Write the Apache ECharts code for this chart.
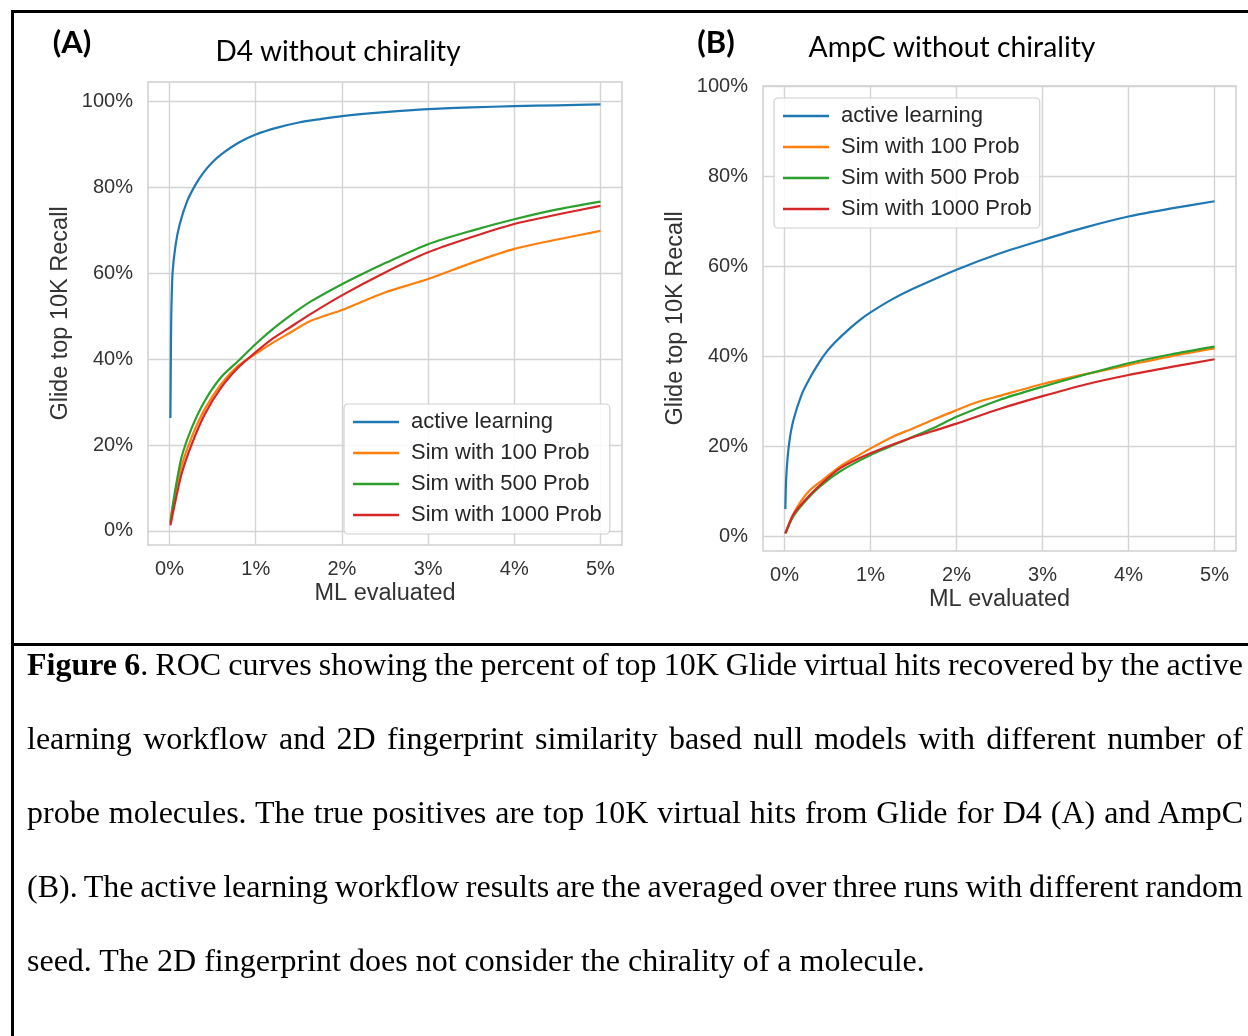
<!DOCTYPE html>
<html>
<head>
<meta charset="utf-8">
<script src="https://cdn.jsdelivr.net/npm/echarts@6/dist/echarts.min.js"></script>
<style>
  html, body { margin: 0; padding: 0; background: #ffffff; }
  #chart { position: absolute; left: 0; top: 0; width: 1248px; height: 1036px; }
  .cap { position: absolute; left: 27px; width: 1216px; height: 40px; line-height: 40px;
         font-family: "Liberation Serif", "Times New Roman", serif; font-size: 32px; color: #000;
         white-space: nowrap; text-align: left; }
</style>
</head>
<body>
<div id="chart"></div>
<div class="cap" style="top:644px"><span class="j"><b>Figure 6</b>. ROC curves showing the percent of top 10K Glide virtual hits recovered by the active</span></div>
<div class="cap" style="top:718px"><span class="j">learning workflow and 2D fingerprint similarity based null models with different number of</span></div>
<div class="cap" style="top:792px"><span class="j">probe molecules. The true positives are top 10K virtual hits from Glide for D4 (A) and AmpC</span></div>
<div class="cap" style="top:866px"><span class="j">(B). The active learning workflow results are the averaged over three runs with different random</span></div>
<div class="cap" style="top:940px"><span>seed. The 2D fingerprint does not consider the chirality of a molecule.</span></div>
<script>
// ---------- data ----------
const seriesNames = ['active learning', 'Sim with 100 Prob', 'Sim with 500 Prob', 'Sim with 1000 Prob'];
const seriesColors = ['#1f77b4', '#ff7f0e', '#2ca02c', '#d62728'];
const xTicks = [0, 1, 2, 3, 4, 5];
const yTicks = [0, 20, 40, 60, 80, 100];

// Panel A: D4 without chirality (x = % ML evaluated, y = % recall)
const A_active_x = [0.01, 0.015, 0.02, 0.035, 0.07, 0.12, 0.2, 0.3, 0.4, 0.5, 0.6, 0.8, 1.0, 1.25, 1.5, 1.75, 2.0, 2.5, 3.0, 3.5, 4.0, 4.5, 5.0];
const A_active_y = [26.3, 40, 50, 60, 66.5, 71.5, 76.5, 80.5, 83.5, 85.8, 87.6, 90.3, 92.2, 93.8, 95.0, 95.8, 96.5, 97.4, 98.1, 98.5, 98.8, 99.0, 99.2];

const A_sim100_x = [0.01, 0.03, 0.065, 0.14, 0.26, 0.41, 0.6, 0.8, 1.0, 1.2, 1.37, 1.64, 2.0, 2.49, 3.0, 3.5, 4.0, 4.5, 5.0];
const A_sim100_y = [2.2, 5.0, 8.7, 15.2, 22.0, 28.4, 34.2, 38.5, 41.2, 43.8, 45.8, 48.9, 51.4, 55.4, 58.6, 62.3, 65.6, 67.8, 69.8];

const A_sim500_x = [0.01, 0.03, 0.065, 0.14, 0.26, 0.41, 0.6, 0.8, 1.0, 1.2, 1.4, 1.64, 2.0, 2.25, 2.49, 3.0, 3.5, 4.0, 4.5, 5.0];
const A_sim500_y = [1.8, 4.8, 9.4, 17.2, 24.1, 30.3, 35.8, 39.6, 43.5, 47.0, 50.1, 53.4, 57.4, 59.9, 62.2, 66.7, 69.8, 72.5, 74.8, 76.6];

const A_sim1000_x = [0.01, 0.03, 0.065, 0.14, 0.26, 0.41, 0.6, 0.8, 1.0, 1.2, 1.37, 1.64, 2.0, 2.49, 3.0, 3.5, 4.0, 4.5, 5.0];
const A_sim1000_y = [1.3, 3.3, 6.7, 13.3, 20.3, 27.2, 33.4, 38.1, 41.6, 44.8, 47.0, 50.5, 54.8, 60.0, 64.8, 68.3, 71.4, 73.6, 75.6];

// Panel B: AmpC without chirality
const B_active_x = [0.01, 0.02, 0.05, 0.1, 0.2, 0.3, 0.4, 0.5, 0.6, 0.75, 0.875, 1.0, 1.25, 1.5, 2.0, 2.5, 3.0, 3.5, 4.0, 4.5, 5.0];
const B_active_y = [6.0, 13.0, 20.0, 25.5, 31.5, 35.3, 38.5, 41.2, 43.3, 46.0, 48.0, 49.7, 52.6, 55.0, 59.2, 62.8, 65.8, 68.6, 71.0, 72.8, 74.4];

const B_sim100_x = [0.01, 0.1, 0.2, 0.3, 0.41, 0.64, 0.83, 1.0, 1.26, 1.45, 1.72, 2.0, 2.26, 2.49, 3.0, 3.5, 4.0, 4.5, 5.0];
const B_sim100_y = [0.6, 4.8, 8.0, 10.3, 12.0, 15.4, 17.6, 19.5, 22.1, 23.6, 25.8, 28.0, 29.9, 31.1, 33.8, 36.0, 38.0, 40.0, 41.7];

const B_sim500_x = [0.01, 0.1, 0.22, 0.41, 0.64, 1.0, 1.45, 1.72, 2.0, 2.49, 3.0, 3.5, 4.0, 4.5, 5.0];
const B_sim500_y = [0.6, 4.3, 7.3, 11.0, 14.3, 18.0, 21.7, 23.9, 26.5, 30.2, 33.2, 35.9, 38.4, 40.4, 42.1];

const B_sim1000_x = [0.01, 0.1, 0.22, 0.41, 0.64, 1.0, 1.45, 1.72, 2.0, 2.49, 3.0, 3.5, 4.0, 4.5, 5.0];
const B_sim1000_y = [0.6, 4.7, 7.6, 11.3, 15.0, 18.4, 21.7, 23.3, 25.0, 28.2, 31.1, 33.7, 35.8, 37.6, 39.3];

// ---------- build ----------
const pairs = (xs, ys) => xs.map((x, i) => [x, ys[i]]);
const panelA = [[A_active_x, A_active_y], [A_sim100_x, A_sim100_y], [A_sim500_x, A_sim500_y], [A_sim1000_x, A_sim1000_y]];
const panelB = [[B_active_x, B_active_y], [B_sim100_x, B_sim100_y], [B_sim500_x, B_sim500_y], [B_sim1000_x, B_sim1000_y]];

const SANS = '"Liberation Sans", Arial, Helvetica, sans-serif';
const TITLE = 'Lato, "Open Sans", sans-serif';
const gridLine = { show: true, lineStyle: { color: '#d4d4d4', width: 1.4 } };

function xAxisCfg(gi) {
  return {
    gridIndex: gi, type: 'value', min: -0.25, max: 5.25,
    axisLine: { show: false },
    axisTick: { show: false, customValues: xTicks },
    axisLabel: { customValues: xTicks, formatter: v => v + '%', fontSize: 20, color: '#333', margin: 14, fontFamily: SANS },
    splitLine: gridLine,
    name: 'ML evaluated', nameLocation: 'middle', nameGap: 37,
    nameTextStyle: { fontSize: 23.5, color: '#333', fontFamily: SANS }
  };
}
function yAxisCfg(gi, mn, mx) {
  return {
    gridIndex: gi, type: 'value', min: mn, max: mx,
    axisLine: { show: false },
    axisTick: { show: false, customValues: yTicks },
    axisLabel: { customValues: yTicks, formatter: v => v + '%', fontSize: 20, color: '#333', margin: 15, fontFamily: SANS },
    splitLine: gridLine,
    name: 'Glide top 10K Recall', nameLocation: 'middle', nameGap: 75, nameRotate: 90,
    nameTextStyle: { fontSize: 23.5, color: '#333', fontFamily: SANS }
  };
}
function legendCfg(left, top) {
  return {
    left: left, top: top, orient: 'vertical', data: seriesNames,
    icon: 'rect', itemWidth: 46, itemHeight: 2.5, itemGap: 7,
    padding: [6, 8, 7, 9],
    backgroundColor: 'rgba(255,255,255,0.85)', borderColor: '#d0d0d0', borderWidth: 1.2, borderRadius: 4,
    textStyle: { fontSize: 22, color: '#262626', fontFamily: SANS, lineHeight: 24, padding: [0, 0, 0, 7] },
    selectedMode: false
  };
}

const series = [];
[panelA, panelB].forEach((panel, pi) => {
  panel.forEach((d, si) => {
    series.push({
      name: seriesNames[si], type: 'line', xAxisIndex: pi, yAxisIndex: pi,
      data: pairs(d[0], d[1]), showSymbol: false, symbol: 'none',
      smooth: 0.25,
      lineStyle: { color: seriesColors[si], width: 2.2 }, itemStyle: { color: seriesColors[si] },
      z: 2 + si, animation: false
    });
  });
});

const black = { fill: '#000' };
const option = {
  animation: false,
  backgroundColor: '#ffffff',
  grid: [
    { left: 148, top: 82, width: 474, height: 463, show: true, borderColor: '#cfcfcf', borderWidth: 1.5, backgroundColor: '#fff' },
    { left: 763, top: 86, width: 473, height: 465, show: true, borderColor: '#cfcfcf', borderWidth: 1.5, backgroundColor: '#fff' }
  ],
  xAxis: [xAxisCfg(0), xAxisCfg(1)],
  yAxis: [yAxisCfg(0, -3.26, 104.42), yAxisCfg(1, -3.3, 100)],
  legend: [legendCfg(344, 404), legendCfg(774, 98)],
  series: series,
  graphic: [
    { type: 'rect', shape: { x: 11, y: 10, width: 1237, height: 3 }, style: black },
    { type: 'rect', shape: { x: 11, y: 10, width: 3, height: 1026 }, style: black },
    { type: 'rect', shape: { x: 11, y: 643, width: 1237, height: 3 }, style: black },
    { type: 'text', x: 72, y: 43, style: { text: '(A)', font: 'bold 31px ' + TITLE, fill: '#000', textAlign: 'center', textVerticalAlign: 'middle' } },
    { type: 'text', x: 338, y: 52, style: { text: 'D4 without chirality', font: '28px ' + TITLE, fill: '#000', textAlign: 'center', textVerticalAlign: 'middle' } },
    { type: 'text', x: 716, y: 43, style: { text: '(B)', font: 'bold 31px ' + TITLE, fill: '#000', textAlign: 'center', textVerticalAlign: 'middle' } },
    { type: 'text', x: 952, y: 48, style: { text: 'AmpC without chirality', font: '28.3px ' + TITLE, fill: '#000', textAlign: 'center', textVerticalAlign: 'middle' } }
  ]
};

const chart = echarts.init(document.getElementById('chart'), null, { renderer: 'canvas' });
chart.setOption(option);

// justify caption lines to the full text width via word spacing
function justifyCaption() {
  const target = 1216;
  document.querySelectorAll('.cap .j').forEach(sp => {
    sp.style.wordSpacing = '0px';
    const w = sp.getBoundingClientRect().width;
    const n = (sp.textContent.match(/ /g) || []).length;
    if (n > 0) sp.style.wordSpacing = ((target - w) / n) + 'px';
  });
}
justifyCaption();
if (document.fonts && document.fonts.ready) document.fonts.ready.then(justifyCaption);
</script>
</body>
</html>
